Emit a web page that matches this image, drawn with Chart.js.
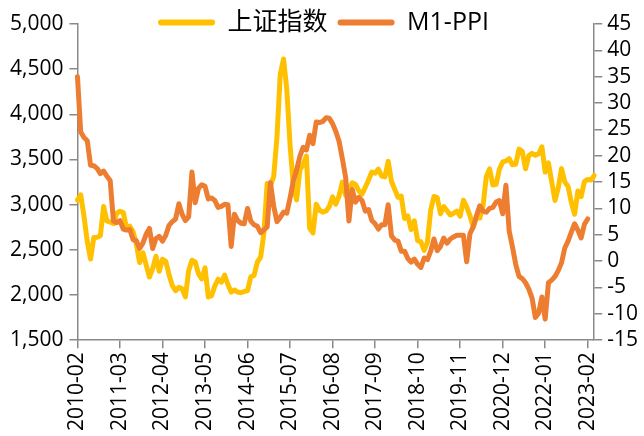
<!DOCTYPE html>
<html>
<head>
<meta charset="utf-8">
<script src="https://cdn.jsdelivr.net/npm/chart.js@4/dist/chart.umd.min.js"></script>
<style>
html,body{margin:0;padding:0;background:#fff;}
canvas{display:block;}
</style>
</head>
<body>
<canvas id="c" width="644" height="436"></canvas>
<script>
// Category months: 2010-02 .. 2023-04
const firstYear = 2010, firstMonth = 2, monthCount = 159;
const months = [];
for (let k = 0; k < monthCount; k++) {
  const m = firstMonth - 1 + k;
  months.push((firstYear + Math.floor(m / 12)) + '-' + String(m % 12 + 1).padStart(2, '0'));
}
const labelEvery = 13;

// 上证指数 (month-end close)
const shIndex = [
  3051, 3109, 2870, 2592, 2398, 2638, 2639, 2656, 2979, 2820, 2808,
  2791, 2905, 2928, 2912, 2744, 2762, 2702, 2567, 2359, 2468, 2333, 2199,
  2293, 2429, 2263, 2396, 2372, 2225, 2104, 2048, 2086, 2069, 1980, 2269,
  2385, 2366, 2237, 2178, 2301, 1979, 1994, 2098, 2175, 2142, 2221, 2116,
  2033, 2056, 2033, 2026, 2039, 2048, 2202, 2217, 2364, 2420, 2683, 3235,
  3210, 3310, 3748, 4442, 4612, 4277, 3664, 3206, 3053, 3383, 3445, 3539,
  2738, 2688, 3004, 2938, 2917, 2930, 2979, 3086, 3005, 3100, 3250, 3104,
  3159, 3242, 3223, 3155, 3117, 3192, 3273, 3361, 3349, 3393, 3317, 3307,
  3481, 3259, 3169, 3082, 3095, 2847, 2876, 2725, 2821, 2603, 2588, 2494,
  2585, 2941, 3091, 3078, 2899, 2979, 2933, 2886, 2905, 2929, 2872, 3050,
  2977, 2880, 2750, 2860, 2852, 2985, 3310, 3396, 3218, 3225, 3392, 3473,
  3483, 3509, 3442, 3447, 3615, 3591, 3397, 3544, 3568, 3547, 3564, 3640,
  3361, 3462, 3252, 3047, 3186, 3399, 3253, 3202, 3024, 2894, 3151, 3089,
  3256, 3280, 3273, 3323
];

// M1-PPI (%)
const m1ppi = [
  35.0, 24.5, 23.45, 22.85, 18.2, 18.1, 17.6, 16.6, 17.1, 16.1, 15.3,
  7.6, 7.3, 7.7, 6.1, 5.9, 6.0, 4.1, 3.9, 2.4, 3.4, 5.1, 6.2,
  2.4, 4.3, 4.7, 3.8, 4.9, 6.8, 7.5, 8.0, 10.9, 8.9, 7.7, 8.4,
  16.9, 11.1, 13.8, 14.5, 14.2, 11.8, 12.0, 11.5, 10.2, 10.4, 10.8, 10.7,
  2.8, 8.9, 7.7, 7.2, 7.1, 10.0, 7.6, 6.9, 6.6, 5.4, 5.9, 6.5,
  14.9, 10.4, 7.5, 8.3, 9.3, 9.1, 12.0, 15.2, 17.3, 19.9, 21.6, 21.1,
  23.9, 22.3, 26.4, 26.3, 26.5, 27.2, 27.1, 26.1, 24.6, 22.7, 19.4, 15.9,
  7.6, 13.6, 11.2, 12.1, 11.5, 9.5, 9.8, 7.7, 7.1, 6.1, 6.9, 6.9,
  10.7, 4.8, 4.0, 3.8, 1.9, 1.9, 0.5, -0.2, 0.4, -0.6, -1.2, 0.6,
  0.3, 1.9, 4.2, 2.0, 2.8, 4.4, 3.4, 4.2, 4.6, 4.9, 4.9, 4.9,
  -0.1, 5.2, 6.5, 8.6, 10.5, 9.5, 9.3, 10.0, 10.2, 11.2, 11.5, 9.0,
  14.4, 5.7, 2.7, -0.6, -2.9, -3.3, -4.1, -5.3, -7.0, -10.7, -9.9, -6.8,
  -11.0, -4.1, -3.6, -2.9, -1.8, -0.3, 2.5, 3.8, 5.5, 7.1, 5.9, 4.4,
  7.0, 8.0, null, null
];

const leftTicks = { min: 1500, max: 5000, step: 500 };
const rightTicks = { min: -15, max: 45, step: 5 };

const YELLOW = '#FFC000';
const ORANGE = '#ED7D31';
const AXIS = '#898989';
const TEXT = '#000000';
const FONT = '"Open Sans", "Noto Sans CJK SC", sans-serif';

Chart.defaults.font.family = FONT;

// Let the legend overlap the top of the plot like the reference
const legendFit = {
  id: 'legendFit',
  beforeUpdate(chart) {
    const lg = chart.legend;
    if (lg && !lg._fitPatched) {
      const f = lg.fit;
      lg.fit = function () { f.call(this); this.height = 24; };
      const d = lg.draw;
      lg.draw = function () {
        const b = this.bottom;
        this.bottom = this.top + 60;
        d.call(this);
        this.bottom = b;
      };
      lg._fitPatched = true;
    }
  }
};

const axisGrid = { display: true, drawOnChartArea: false, drawTicks: true, tickLength: 8, color: AXIS, lineWidth: 1.5 };
const axisBorder = { display: true, color: AXIS, width: 1.5 };

new Chart(document.getElementById('c'), {
  type: 'line',
  data: {
    labels: months,
    datasets: [
      { label: '上证指数', data: shIndex, yAxisID: 'y', borderColor: YELLOW, backgroundColor: YELLOW,
        borderWidth: 5, pointRadius: 0, tension: 0, borderJoinStyle: 'round', borderCapStyle: 'round', order: 1 },
      { label: 'M1-PPI', data: m1ppi, yAxisID: 'y1', borderColor: ORANGE, backgroundColor: ORANGE,
        borderWidth: 5, pointRadius: 0, tension: 0, borderJoinStyle: 'round', borderCapStyle: 'round', order: 0 }
    ]
  },
  options: {
    responsive: false,
    animation: false,
    devicePixelRatio: 1,
    layout: { padding: { left: 4, right: 1, top: 0, bottom: 1 } },
    plugins: {
      tooltip: { enabled: false },
      legend: {
        position: 'top',
        labels: {
          boxWidth: 57, boxHeight: 6, padding: 10, color: TEXT,
          font: { size: 25, family: FONT },
          sort: (a, b) => a.datasetIndex - b.datasetIndex,
          generateLabels(chart) {
            const items = Chart.defaults.plugins.legend.labels.generateLabels(chart);
            items.forEach(it => { it.lineWidth = 0; it.borderRadius = 3; });
            return items;
          }
        }
      }
    },
    scales: {
      x: {
        type: 'category',
        offset: false,
        grid: axisGrid,
        border: axisBorder,
        ticks: { autoSkip: false, minRotation: 90, maxRotation: 90, padding: 4, color: TEXT, font: { size: 21 } },
        afterBuildTicks(scale) { scale.ticks = scale.ticks.filter(t => t.value % labelEvery === 0); }
      },
      y: {
        position: 'left',
        min: leftTicks.min, max: leftTicks.max,
        grid: axisGrid,
        border: axisBorder,
        ticks: { stepSize: leftTicks.step, autoSkip: false, padding: 6, color: TEXT, font: { size: 21 },
          callback: v => Number(v).toLocaleString('en-US') }
      },
      y1: {
        position: 'right',
        min: rightTicks.min, max: rightTicks.max,
        grid: axisGrid,
        border: axisBorder,
        ticks: { stepSize: rightTicks.step, autoSkip: false, padding: 5, color: TEXT, font: { size: 21 } }
      }
    }
  },
  plugins: [legendFit]
});
</script>
</body>
</html>
